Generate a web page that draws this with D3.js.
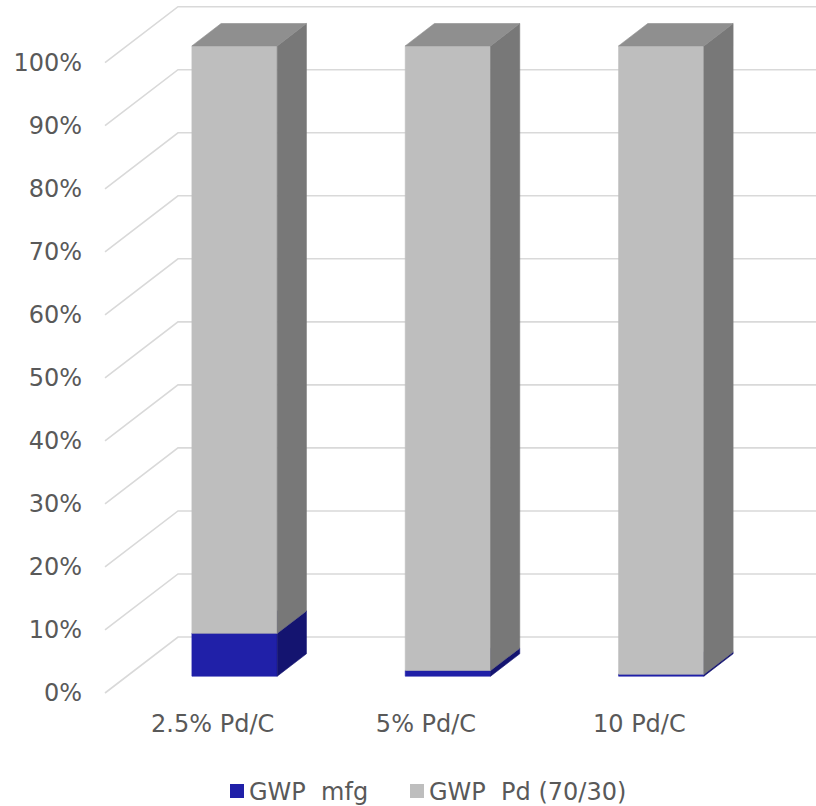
<!DOCTYPE html>
<html>
<head>
<meta charset="utf-8">
<script src="https://cdn.jsdelivr.net/npm/d3@7"></script>
<style>
  html, body { margin: 0; padding: 0; background: #fff; }
  svg { display: block; }
  text { font-family: Verdana, "DejaVu Sans", sans-serif; fill: #595959; }
</style>
</head>
<body>
<svg id="chart" width="816" height="806"></svg>
<script>
// Share of global warming potential for each catalyst loading (%)
const categories = ["2.5% Pd/C", "5% Pd/C", "10 Pd/C"];
const gwpMfg = [6.8, 0.9, 0.3];
const gwpPd = [93.2, 99.1, 99.7];
const seriesNames = ["GWP  mfg", "GWP  Pd (70/30)"];
const yTicks = [0, 10, 20, 30, 40, 50, 60, 70, 80, 90, 100];

const palette = {
  mfg: { front: "#2020a8", side: "#141470", top: "#1a1a8c" },
  pd:  { front: "#bebebe", side: "#787878", top: "#8f8f8f" }
};

const svg = d3.select("#chart");

// Back-wall scales; the floor recedes by (depthX, depthY) from front to back
const depthX = 73, depthY = -56;
const x = d3.scaleBand().domain(categories).range([179, 819])
  .paddingInner(0.6).paddingOuter(0.3);
const y = d3.scaleLinear().domain([0, 100]).range([637, 6.7]);

// Project a back-wall point to depth t (0 = front of floor, 1 = back wall)
const at = (xb, yb, t) => [xb - (1 - t) * depthX, yb - (1 - t) * depthY];

// Gridlines: diagonal along the side wall, then across the back wall
const grid = svg.append("g");
yTicks.forEach(v => {
  const [fx, fy] = at(x.range()[0] - 1, y(v), 0);
  grid.append("polyline")
    .attr("points", `${fx},${fy} ${x.range()[0] - 1},${y(v)} 816,${y(v)}`)
    .attr("fill", "none")
    .attr("stroke", "#d9d9d9")
    .attr("stroke-width", 1.6);
});

// Y-axis labels at the front edge of the side wall
svg.append("g").selectAll("text").data(yTicks).join("text")
  .attr("x", 82)
  .attr("y", d => at(0, y(d), 0)[1])
  .attr("text-anchor", "end")
  .attr("dominant-baseline", "central")
  .style("font-size", "24px")
  .text(d => d + "%");

// Stacked 3D columns: front face at depth 0.3, back face at depth 0.7
const tFront = 0.3, tBack = 0.7;
const stacks = categories.map((c, i) => [
  { key: "mfg", y0: 0, y1: gwpMfg[i] },
  { key: "pd", y0: gwpMfg[i], y1: gwpMfg[i] + gwpPd[i] }
]);

const bars = svg.append("g");
categories.forEach((c, i) => {
  const xl = x(c), xr = x(c) + x.bandwidth();
  stacks[i].forEach(seg => {
    const col = palette[seg.key];
    const yb = y(seg.y0), yt = y(seg.y1);
    const fbl = at(xl, yb, tFront), fbr = at(xr, yb, tFront);
    const ftl = at(xl, yt, tFront), ftr = at(xr, yt, tFront);
    const bbr = at(xr, yb, tBack), btr = at(xr, yt, tBack), btl = at(xl, yt, tBack);
    const poly = pts => pts.map(p => p.join(",")).join(" ");
    const face = (pts, fill) => bars.append("polygon")
      .attr("points", poly(pts))
      .attr("fill", fill)
      .attr("stroke", fill)
      .attr("stroke-width", 0.6)
      .attr("stroke-linejoin", "round");
    face([fbl, fbr, ftr, ftl], col.front);
    face([fbr, bbr, btr, ftr], col.side);
    face([ftl, ftr, btr, btl], col.top);
  });
});

// Category labels centred under each column at the front of the floor
svg.append("g").selectAll("text").data(categories).join("text")
  .attr("x", d => x(d) + x.bandwidth() / 2 - depthX)
  .attr("y", 724)
  .attr("text-anchor", "middle")
  .attr("dominant-baseline", "central")
  .style("font-size", "24px")
  .text(d => d);

// Legend
const legend = svg.append("g");
const legendItems = [
  { name: seriesNames[0], color: palette.mfg.front, x: 230 },
  { name: seriesNames[1], color: palette.pd.front, x: 410 }
];
legendItems.forEach(it => {
  legend.append("rect")
    .attr("x", it.x).attr("y", 784).attr("width", 14).attr("height", 14)
    .attr("fill", it.color);
  legend.append("text")
    .attr("x", it.x + 19).attr("y", 792)
    .attr("dominant-baseline", "central")
    .attr("xml:space", "preserve")
    .style("white-space", "pre")
    .style("font-size", "24px")
    .text(it.name);
});
</script>
</body>
</html>
